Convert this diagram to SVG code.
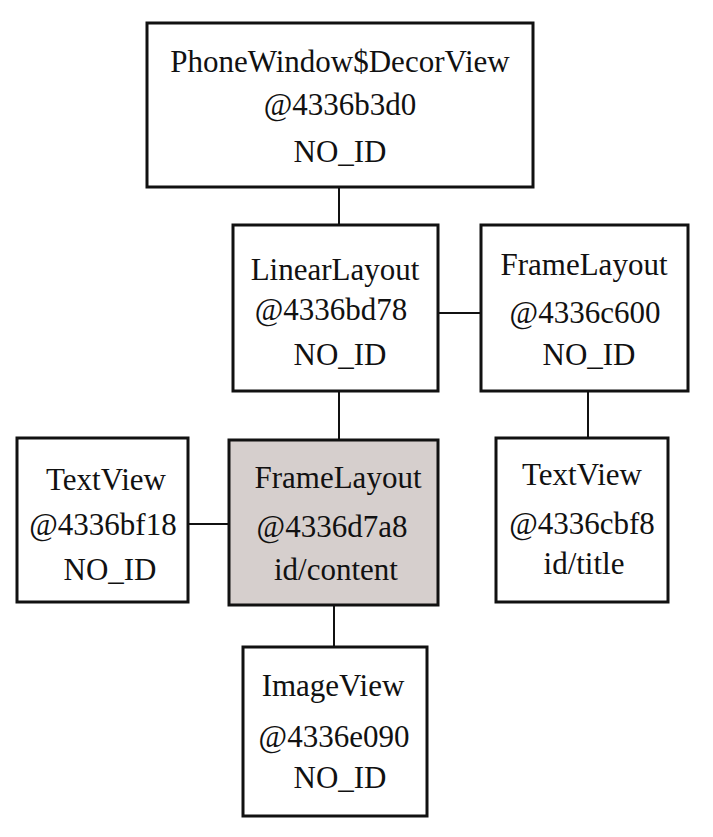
<svg xmlns="http://www.w3.org/2000/svg" width="713" height="837" viewBox="0 0 713 837">
<style>
.box{fill:#ffffff;stroke:#111111;stroke-width:3}
.hl{fill:#d6cfcd}
.t{font-family:"Liberation Serif","Times New Roman",serif;font-size:31px;fill:#111111;text-anchor:middle}
.c{stroke:#111111;stroke-width:2;fill:none}
</style>
<rect width="713" height="837" fill="#ffffff"/>
<g id="connectors">
<line class="c" x1="339" y1="187" x2="339" y2="225"/>
<line class="c" x1="438" y1="313" x2="481" y2="313"/>
<line class="c" x1="339" y1="391" x2="339" y2="440"/>
<line class="c" x1="588" y1="391" x2="588" y2="438"/>
<line class="c" x1="188" y1="524" x2="229" y2="524"/>
<line class="c" x1="334" y1="605" x2="334" y2="647"/>
</g>
<g id="decorview">
<rect class="box" x="147" y="23" width="386" height="164"/>
<text class="t" x="340" y="72">PhoneWindow$DecorView</text>
<text class="t" x="340" y="115">@4336b3d0</text>
<text class="t" x="340" y="162">NO_ID</text>
</g>
<g id="linearlayout">
<rect class="box" x="233" y="225" width="205" height="166"/>
<text class="t" x="335" y="280">LinearLayout</text>
<text class="t" x="331" y="320">@4336bd78</text>
<text class="t" x="340" y="365">NO_ID</text>
</g>
<g id="framelayout-title">
<rect class="box" x="481" y="225" width="207" height="166"/>
<text class="t" x="584" y="275">FrameLayout</text>
<text class="t" x="585" y="323">@4336c600</text>
<text class="t" x="589" y="365">NO_ID</text>
</g>
<g id="textview-left">
<rect class="box" x="17" y="438" width="171" height="164"/>
<text class="t" x="106" y="490">TextView</text>
<text class="t" x="103" y="535">@4336bf18</text>
<text class="t" x="110" y="580">NO_ID</text>
</g>
<g id="framelayout-content">
<rect class="box hl" x="229" y="440" width="209" height="165"/>
<text class="t" x="338" y="488">FrameLayout</text>
<text class="t" x="332" y="537">@4336d7a8</text>
<text class="t" x="336" y="580">id/content</text>
</g>
<g id="textview-title">
<rect class="box" x="496" y="438" width="172" height="164"/>
<text class="t" x="582" y="485">TextView</text>
<text class="t" x="582" y="534">@4336cbf8</text>
<text class="t" x="584" y="574">id/title</text>
</g>
<g id="imageview">
<rect class="box" x="243" y="647" width="184" height="169"/>
<text class="t" x="333" y="696">ImageView</text>
<text class="t" x="334" y="747">@4336e090</text>
<text class="t" x="340" y="788">NO_ID</text>
</g>
</svg>
